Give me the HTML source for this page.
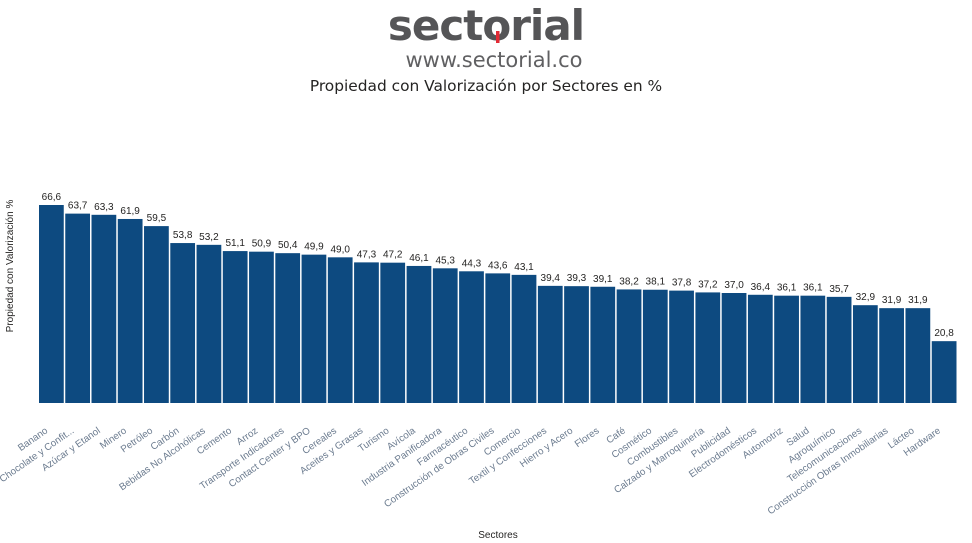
<!DOCTYPE html>
<html><head><meta charset="utf-8">
<style>
body{margin:0;background:#fff;width:972px;height:543px;overflow:hidden;font-family:"Liberation Sans","DejaVu Sans",sans-serif;}
svg{display:block}
</style></head>
<body>
<svg id="chart" width="972" height="543" viewBox="0 0 972 543" xmlns="http://www.w3.org/2000/svg">
  <g>
    <text x="486" y="40" text-anchor="middle" font-size="42" font-weight="bold" fill="#555557" font-family="'DejaVu Sans','Liberation Sans',sans-serif" letter-spacing="-1">sectorial</text>
    <rect x="496" y="31" width="3.5" height="12" fill="#e32a35"/>
    <text x="494" y="67" text-anchor="middle" font-size="21" fill="#606062" font-family="'DejaVu Sans','Liberation Sans',sans-serif">www.sectorial.co</text>
  </g>
  <text x="486" y="91" text-anchor="middle" font-size="15.4" fill="#252423" font-family="'DejaVu Sans','Liberation Sans',sans-serif">Propiedad con Valorización por Sectores en %</text>
  <text transform="translate(13,266) rotate(-90)" text-anchor="middle" font-size="10" fill="#252423">Propiedad con Valorización %</text>
  <text x="498" y="538" text-anchor="middle" font-size="10" fill="#252423">Sectores</text>
  <g id="bars"></g>
  <g id="vals"></g>
  <g id="cats"></g>
</svg>
<script>
const categories=["Banano","Chocolate y Confit...","Azúcar y Etanol","Minero","Petróleo","Carbón","Bebidas No Alcohólicas","Cemento","Arroz","Transporte Indicadores","Contact Center y BPO","Cereales","Aceites y Grasas","Turismo","Avícola","Industria Panificadora","Farmacéutico","Construcción de Obras Civiles","Comercio","Textil y Confecciones","Hierro y Acero","Flores","Café","Cosmético","Combustibles","Calzado y Marroquinería","Publicidad","Electrodomésticos","Automotriz","Salud","Agroquímico","Telecomunicaciones","Construcción Obras Inmobiliarias","Lácteo","Hardware"];
const values=[66.6,63.7,63.3,61.9,59.5,53.8,53.2,51.1,50.9,50.4,49.9,49.0,47.3,47.2,46.1,45.3,44.3,43.6,43.1,39.4,39.3,39.1,38.2,38.1,37.8,37.2,37.0,36.4,36.1,36.1,35.7,32.9,31.9,31.9,20.8];
const NS="http://www.w3.org/2000/svg";
const x0=39,x1=958,base=403,pxPer=198/66.6;
const slot=(x1-x0)/categories.length;
const xPos=i=>x0+i*slot;
const yPos=v=>base-v*pxPer;
const gb=document.getElementById('bars'),gv=document.getElementById('vals'),gc=document.getElementById('cats');
categories.forEach((c,i)=>{
  const v=values[i];
  const r=document.createElementNS(NS,'rect');
  
  
  r.setAttribute('x',xPos(i));r.setAttribute('y',yPos(v));
  r.setAttribute('width',slot-1.5);r.setAttribute('height',base-yPos(v));
  r.setAttribute('fill','#0d4a80');
  gb.appendChild(r);
  const cx=xPos(i)+(slot-1.5)/2;
  const t=document.createElementNS(NS,'text');
  
  
  t.setAttribute('x',cx);t.setAttribute('y',yPos(v)-5);
  t.setAttribute('text-anchor','middle');t.setAttribute('font-size','10');t.setAttribute('fill','#252423');
  t.textContent=v.toFixed(1).replace('.',',');
  gv.appendChild(t);
  const l=document.createElementNS(NS,'text');
  
  
  l.setAttribute('transform','translate('+(cx-3)+',432) rotate(-35)');
  l.setAttribute('text-anchor','end');l.setAttribute('font-size','9.8');l.setAttribute('fill','#6b7b8f');
  l.textContent=c;
  gc.appendChild(l);
});
</script>
</body></html>
